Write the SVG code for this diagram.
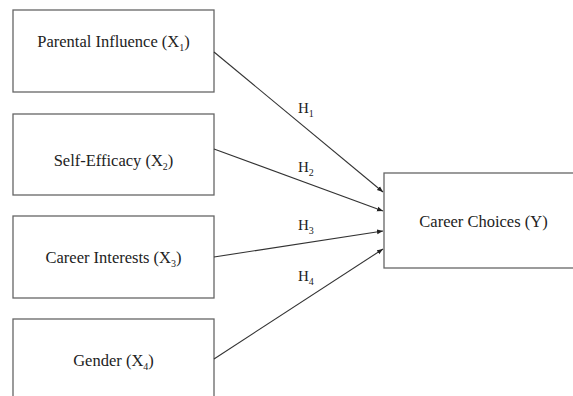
<svg xmlns="http://www.w3.org/2000/svg" width="573" height="396" viewBox="0 0 573 396">
<style>
.box{fill:#fff;stroke:#666;stroke-width:1.3}
.t{font-family:"Liberation Serif","Times New Roman",serif;font-size:16.5px;fill:#222;text-anchor:middle}
.h{font-family:"Liberation Serif","Times New Roman",serif;font-size:15px;fill:#222}
.sub{font-size:10px}
.c{stroke:#333;stroke-width:1.1;fill:none;marker-end:url(#arr)}
</style>
<defs>
<marker id="arr" viewBox="0 0 10 10" refX="10" refY="5" markerWidth="6" markerHeight="6" markerUnits="userSpaceOnUse" orient="auto">
<path d="M0,1 L10,5 L0,9 z" fill="#222"/>
</marker>
</defs>
<rect width="573" height="396" fill="#fff"/>
<g id="x1">
<rect class="box" x="13" y="10" width="201" height="82"/>
<text class="t" x="113.5" y="47">Parental Influence (X<tspan class="sub" dy="4">1</tspan><tspan dy="-4">)</tspan></text>
</g>
<g id="x2">
<rect class="box" x="13" y="114" width="201" height="81"/>
<text class="t" x="113.5" y="166">Self-Efficacy (X<tspan class="sub" dy="4">2</tspan><tspan dy="-4">)</tspan></text>
</g>
<g id="x3">
<rect class="box" x="13" y="216" width="201" height="82"/>
<text class="t" x="113.5" y="263">Career Interests (X<tspan class="sub" dy="4">3</tspan><tspan dy="-4">)</tspan></text>
</g>
<g id="x4">
<rect class="box" x="13" y="319" width="201" height="90"/>
<text class="t" x="113.5" y="366">Gender (X<tspan class="sub" dy="4">4</tspan><tspan dy="-4">)</tspan></text>
</g>
<g id="y">
<rect class="box" x="384" y="173" width="200" height="95"/>
<text class="t" x="483.5" y="227">Career Choices (Y)</text>
</g>
<g id="connectors">
<line class="c" x1="214" y1="52" x2="383" y2="192"/>
<line class="c" x1="214" y1="149" x2="383" y2="211"/>
<line class="c" x1="214" y1="257" x2="383" y2="231"/>
<line class="c" x1="214" y1="359" x2="383" y2="249"/>
<text class="h" x="298" y="113">H<tspan class="sub" dy="4">1</tspan></text>
<text class="h" x="298" y="172">H<tspan class="sub" dy="4">2</tspan></text>
<text class="h" x="298" y="230">H<tspan class="sub" dy="4">3</tspan></text>
<text class="h" x="298" y="281">H<tspan class="sub" dy="4">4</tspan></text>
</g>
</svg>
